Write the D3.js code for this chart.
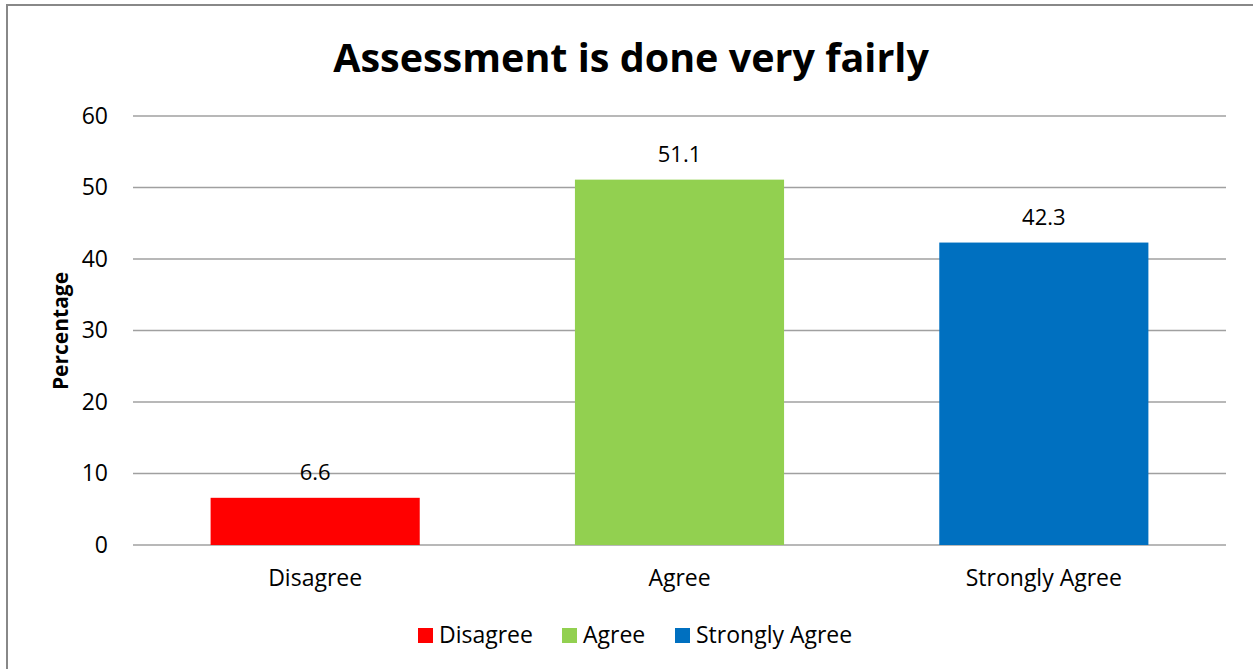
<!DOCTYPE html>
<html>
<head>
<meta charset="utf-8">
<script src="https://cdn.jsdelivr.net/npm/d3@7"></script>
<style>
  body { margin: 0; background: #fff; }
  text { font-family: "Open Sans", "Noto Sans", sans-serif; fill: #000; }
</style>
</head>
<body>
<script>
var svg_width  = 1253;
var svg_height = 669;

var categories = ["Disagree", "Agree", "Strongly Agree"];
var values     = [6.6, 51.1, 42.3];
var colors     = ["#ff0000", "#92d050", "#0070c0"];
var yTicks     = [0, 10, 20, 30, 40, 50, 60];

var svg = d3.select('body').append('svg')
            .attr('width', svg_width)
            .attr('height', svg_height);

// chart frame
svg.append("rect")
   .attr("x", 7).attr("y", 5)
   .attr("width", 1260).attr("height", 680)
   .attr("fill", "none")
   .attr("stroke", "#888")
   .attr("stroke-width", 2);

var plot = {left: 133, right: 1226, top: 116, bottom: 545};

var x = d3.scaleBand()
          .domain(categories)
          .range([plot.left, plot.right])
          .paddingInner(0.426)
          .paddingOuter(0.213);

var y = d3.scaleLinear()
          .domain([0, 60])
          .range([plot.bottom, plot.top]);

// gridlines
svg.append("g")
   .selectAll("line")
   .data(yTicks)
   .enter().append("line")
   .attr("x1", plot.left).attr("x2", plot.right)
   .attr("y1", d => y(d)).attr("y2", d => y(d))
   .attr("stroke", "#a0a0a0")
   .attr("stroke-width", 1.5);

// y axis labels
var yAxis = svg.append("g")
   .attr("transform", "translate(" + (plot.left - 25) + ",0)")
   .call(d3.axisLeft(y).tickValues(yTicks).tickSize(0).tickPadding(0));
yAxis.select(".domain").remove();
yAxis.selectAll("text")
     .attr("font-size", 23)
     .attr("font-family", "Open Sans, sans-serif")
     .attr("fill", "#000");

// x axis labels
var xAxis = svg.append("g")
   .attr("transform", "translate(0," + plot.bottom + ")")
   .call(d3.axisBottom(x).tickSize(0).tickPadding(25));
xAxis.select(".domain").remove();
xAxis.selectAll("text")
     .attr("font-size", 23)
     .attr("font-family", "Open Sans, sans-serif")
     .attr("fill", "#000");

// bars
svg.append("g")
   .selectAll("rect")
   .data(values)
   .enter().append("rect")
   .attr("x", (d, i) => x(categories[i]))
   .attr("y", d => y(d))
   .attr("width", x.bandwidth())
   .attr("height", d => y(0) - y(d))
   .attr("fill", (d, i) => colors[i]);

// value labels
svg.append("g")
   .selectAll("text")
   .data(values)
   .enter().append("text")
   .attr("x", (d, i) => x(categories[i]) + x.bandwidth() / 2)
   .attr("y", d => y(d) - 18)
   .attr("text-anchor", "middle")
   .attr("font-size", 22)
   .text(d => d.toFixed(1));

// title
svg.append("text")
   .attr("x", 631).attr("y", 72)
   .attr("text-anchor", "middle")
   .attr("font-size", 39.5)
   .attr("font-weight", "bold")
   .text("Assessment is done very fairly");

// y axis title
svg.append("text")
   .attr("transform", "translate(68,331) rotate(-90)")
   .attr("text-anchor", "middle")
   .attr("font-size", 21)
   .attr("font-weight", "bold")
   .text("Percentage");

// legend
var legendX = [418, 562, 675];
var legend = svg.append("g")
   .selectAll("g")
   .data(categories)
   .enter().append("g")
   .attr("transform", (d, i) => "translate(" + legendX[i] + ",628)");
legend.append("rect")
      .attr("width", 15).attr("height", 15)
      .attr("fill", (d, i) => colors[i]);
legend.append("text")
      .attr("x", 21).attr("y", 15)
      .attr("font-size", 23)
      .text(d => d);
</script>
</body>
</html>
